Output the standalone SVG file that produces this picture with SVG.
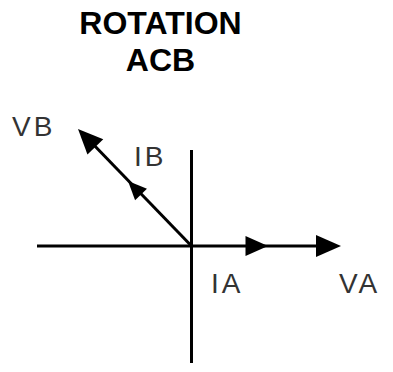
<svg xmlns="http://www.w3.org/2000/svg" width="393" height="372" viewBox="0 0 393 372">
<style>
.title{font-family:"Liberation Sans",Arial,sans-serif;font-weight:bold;font-size:32px;fill:#000;text-anchor:middle}
.lbl{font-family:"Liberation Sans",Arial,sans-serif;font-size:28px;fill:#333;letter-spacing:3px}
.ax{stroke:#000;stroke-width:3;fill:none}
</style>
<defs>
<path id="ah" d="M0,0 L-25,-11 L-25,11 Z" fill="#000"/>
</defs>
<rect width="393" height="372" fill="#fff"/>
<g id="title">
<text class="title" x="160.5" y="34">ROTATION</text>
<text class="title" x="160.5" y="71">ACB</text>
</g>
<g id="connectors">
<line class="ax" x1="191.5" y1="150" x2="191.5" y2="363"/>
<line class="ax" x1="37" y1="246" x2="325" y2="246"/>
<line class="ax" x1="191.5" y1="246" x2="90" y2="141"/>
<use href="#ah" transform="translate(341,246)"/>
<use href="#ah" transform="translate(268,246) scale(0.9)"/>
<use href="#ah" transform="translate(78,129) rotate(-134)"/>
<use href="#ah" transform="translate(128,181) rotate(-134) scale(0.75)"/>
</g>
<g id="label-VB"><text class="lbl" x="12" y="136">VB</text></g>
<g id="label-IB"><text class="lbl" x="134" y="166">IB</text></g>
<g id="label-IA"><text class="lbl" x="211" y="293">IA</text></g>
<g id="label-VA"><text class="lbl" x="339" y="293">VA</text></g>
</svg>
